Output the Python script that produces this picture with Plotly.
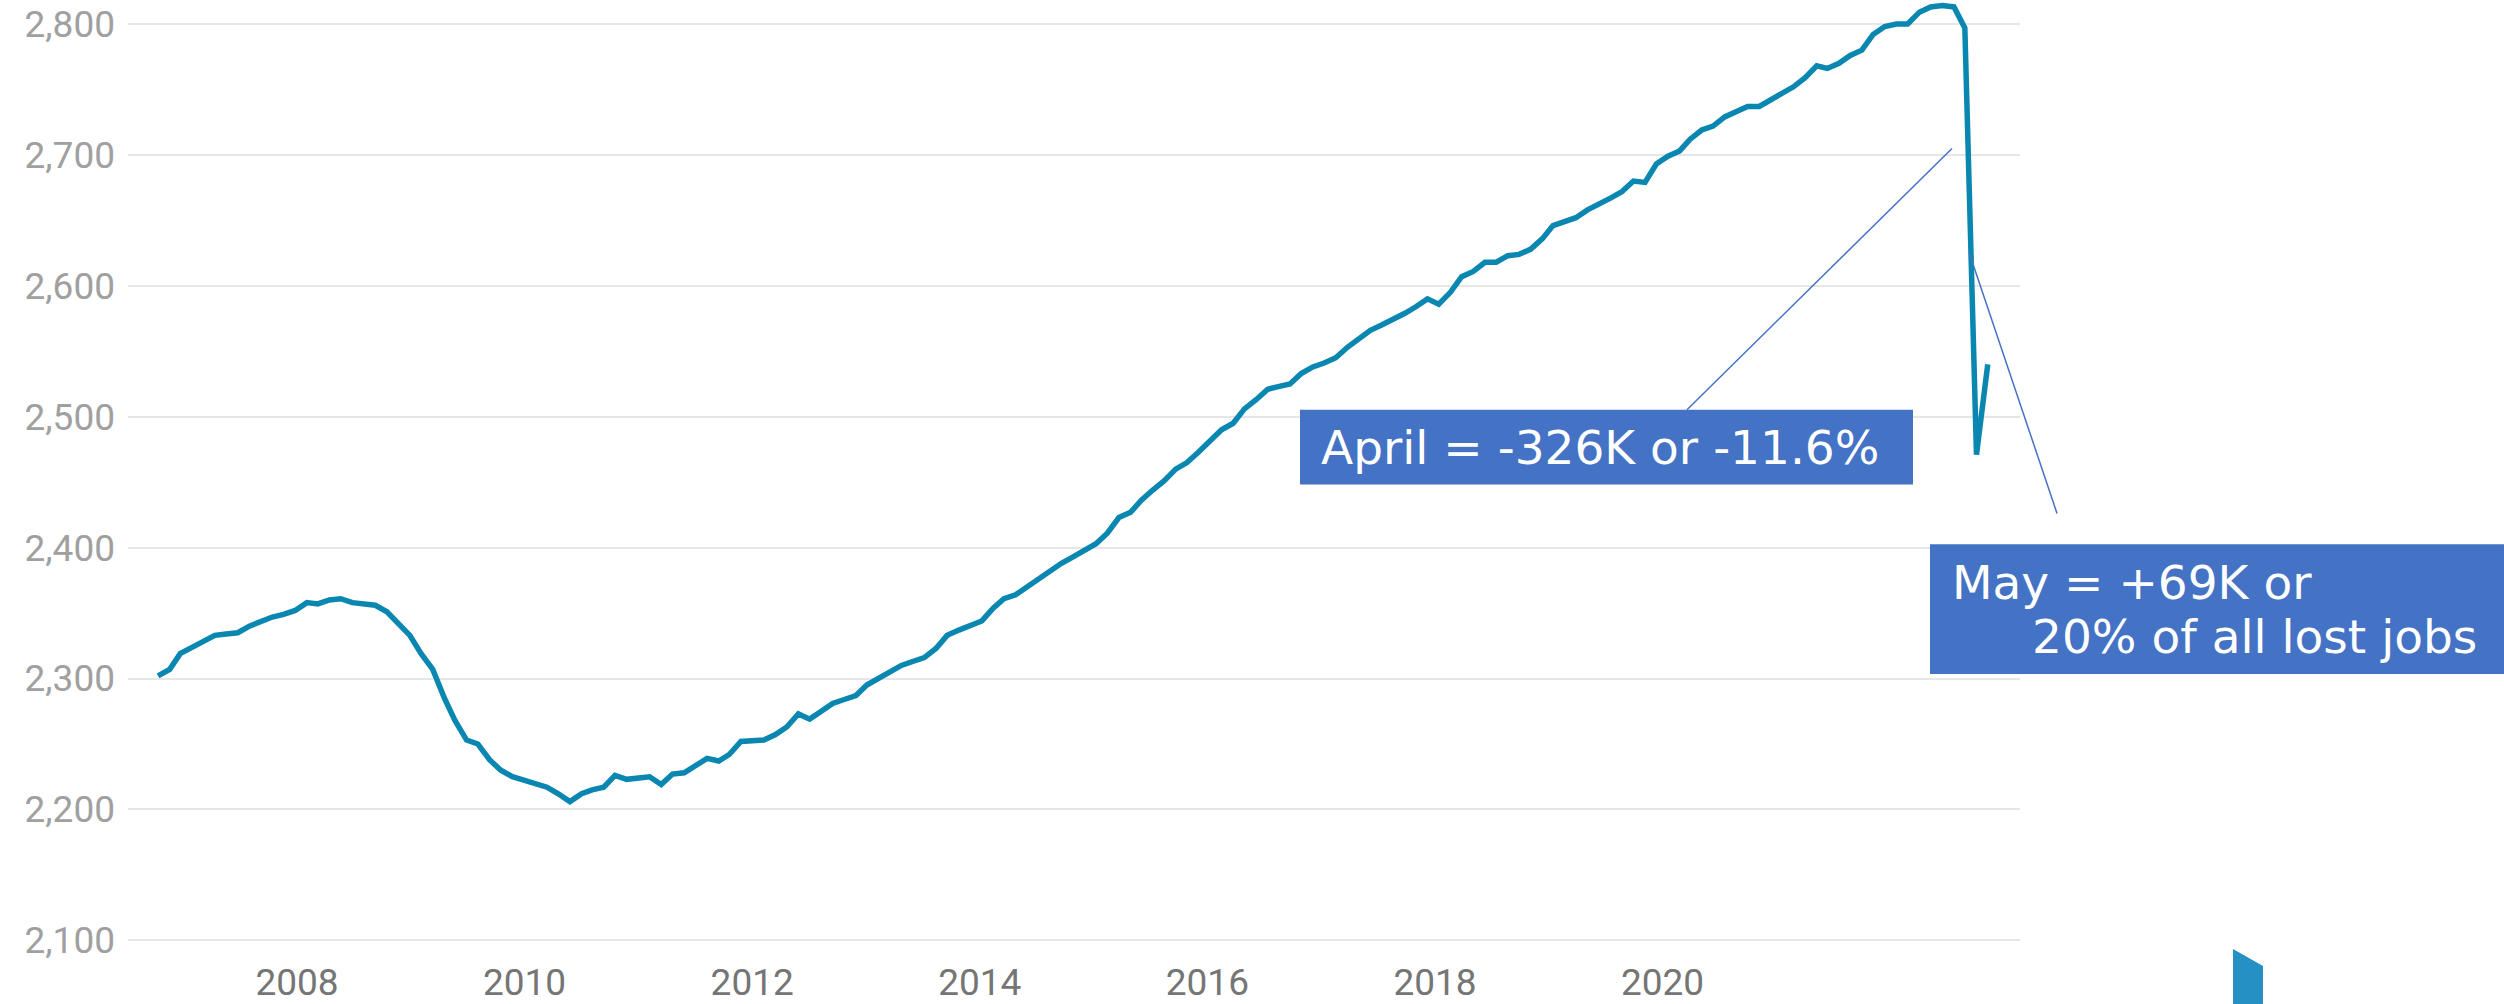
import pandas as pd
import plotly.graph_objects as go

# ---------------- data (thousands of jobs, monthly Jan 2007 - May 2020) ----------------
start_month = "2007-01-01"
jobs = [
    # 2007
    2302, 2307, 2319, 2324, 2328, 2333, 2334, 2335, 2340, 2344, 2347, 2349,
    # 2008
    2352, 2358, 2357, 2360, 2361, 2358, 2357, 2356, 2351, 2342, 2333, 2319,
    # 2009
    2307, 2285, 2268, 2253, 2250, 2238, 2230, 2225, 2222, 2219, 2217, 2212,
    # 2010
    2206, 2212, 2215, 2217, 2226, 2223, 2224, 2225, 2219, 2227, 2228, 2233,
    # 2011
    2239, 2237, 2242, 2252, 2253, 2253, 2257, 2263, 2273, 2269, 2275, 2281,
    # 2012
    2284, 2287, 2295, 2300, 2304, 2310, 2313, 2316, 2323, 2333, 2337, 2341,
    # 2013
    2344, 2354, 2361, 2364, 2370, 2376, 2382, 2388, 2393, 2398, 2403, 2411,
    # 2014
    2423, 2427, 2436, 2444, 2451, 2460, 2465, 2473, 2481, 2490, 2495, 2506,
    # 2015
    2513, 2521, 2523, 2525, 2533, 2538, 2541, 2545, 2553, 2559, 2566, 2570,
    # 2016
    2574, 2579, 2584, 2590, 2586, 2595, 2607, 2611, 2618, 2618, 2623, 2624,
    # 2017
    2628, 2636, 2646, 2649, 2652, 2658, 2662, 2667, 2672, 2680, 2679, 2693,
    # 2018
    2699, 2703, 2712, 2719, 2722, 2729, 2733, 2737, 2737, 2742, 2747, 2752,
    # 2019
    2759, 2768, 2766, 2770, 2776, 2780, 2792, 2798, 2800, 2800, 2809, 2813,
    # 2020
    2814, 2813, 2797, 2471, 2540,
]
months = pd.date_range(start_month, periods=len(jobs), freq="MS")

x_tick_years = [2008, 2010, 2012, 2014, 2016, 2018, 2020]
x_tick_labels = [str(y) for y in x_tick_years]
y_tick_values = [2100, 2200, 2300, 2400, 2500, 2600, 2700, 2800]

april_text = "April = -326K or -11.6%"
may_text_1 = "May = +69K or"
may_text_2 = "20% of all lost jobs"

# ---------------- layout geometry ----------------
W, H = 2504, 1004
L, R, T, B = 128, 2020, 0, 960  # plot area in pixels


def px(x):
    return (x - L) / (R - L)


def py(y):
    return 1 - (y - T) / (B - T)


LINE_COLOR = "#0a87b0"
BOX_COLOR = "#4472c4"

fig = go.Figure()
fig.add_trace(go.Scatter(
    x=months, y=jobs, mode="lines",
    line=dict(color=LINE_COLOR, width=5.5, shape="linear"),
    showlegend=False, hoverinfo="skip",
))
# invisible trace carrying the overlaid year axis
fig.add_trace(go.Scatter(
    x=x_tick_years, y=[None] * len(x_tick_years), xaxis="x2",
    mode="lines", showlegend=False, hoverinfo="skip",
))

shapes = [
    # April box
    dict(type="rect", xref="paper", yref="paper",
         x0=px(1300), x1=px(1913), y0=py(486), y1=py(411),
         fillcolor=BOX_COLOR, line=dict(width=0), layer="above"),
    # May box
    dict(type="rect", xref="paper", yref="paper",
         x0=px(1930), x1=px(2520), y0=py(676), y1=py(546),
         fillcolor=BOX_COLOR, line=dict(width=0), layer="above"),
    # leader lines
    dict(type="line", xref="paper", yref="paper",
         x0=px(1687), y0=py(411), x1=px(1952), y1=py(149),
         line=dict(color=BOX_COLOR, width=1.5)),
    dict(type="line", xref="paper", yref="paper",
         x0=px(1969), y0=py(253), x1=px(2057), y1=py(515),
         line=dict(color=BOX_COLOR, width=1.5)),
    # logo fragment
    dict(type="path", xref="paper", yref="paper",
         path=f"M {px(2233)} {py(952)} L {px(2263)} {py(969)} L {px(2263)} {py(1010)} L {px(2233)} {py(1010)} Z",
         fillcolor="#2490c4", line=dict(width=0)),
]

ann_font = dict(family="DejaVu Sans", size=47, color="white")
annotations = [
    dict(text=april_text, xref="paper", yref="paper", x=px(1319), y=py(449),
         xanchor="left", yanchor="middle", showarrow=False, font=ann_font),
    dict(text=may_text_1, xref="paper", yref="paper", x=px(1950), y=py(584.5),
         xanchor="left", yanchor="middle", showarrow=False, font=ann_font),
    dict(text=may_text_2, xref="paper", yref="paper", x=px(2030), y=py(638.5),
         xanchor="left", yanchor="middle", showarrow=False, font=ann_font),
]

fig.update_layout(
    width=W, height=H,
    margin=dict(l=L, r=W - R, t=T, b=H - B, pad=0),
    paper_bgcolor="white", plot_bgcolor="white",
    showlegend=False,
    xaxis=dict(type="date", range=["2006-10-13", "2020-07-25 19:00"],
               showticklabels=False, showgrid=False, zeroline=False,
               showline=False, ticks=""),
    xaxis2=dict(overlaying="x", anchor="y", side="bottom",
                range=[2006.515, 2023.141],
                tickmode="array", tickvals=x_tick_years, ticktext=x_tick_labels,
                tickfont=dict(family="Roboto", size=37, color="#757575"),
                showgrid=False, zeroline=False, showline=False, ticks=""),
    yaxis=dict(range=[2087.3, 2818.3], tickmode="array", tickvals=y_tick_values,
               tickformat=",", tickfont=dict(family="Roboto", size=37, color="#a0a0a0"),
               gridcolor="#e6e6e6", gridwidth=2, zeroline=False, showline=False,
               ticks="", ticklabelstandoff=12),
    shapes=shapes,
    annotations=annotations,
)

fig.write_html("out.html", config={"displayModeBar": False, "staticPlot": True},
               post_script="document.body.style.margin='0';document.body.style.overflow='hidden';")
